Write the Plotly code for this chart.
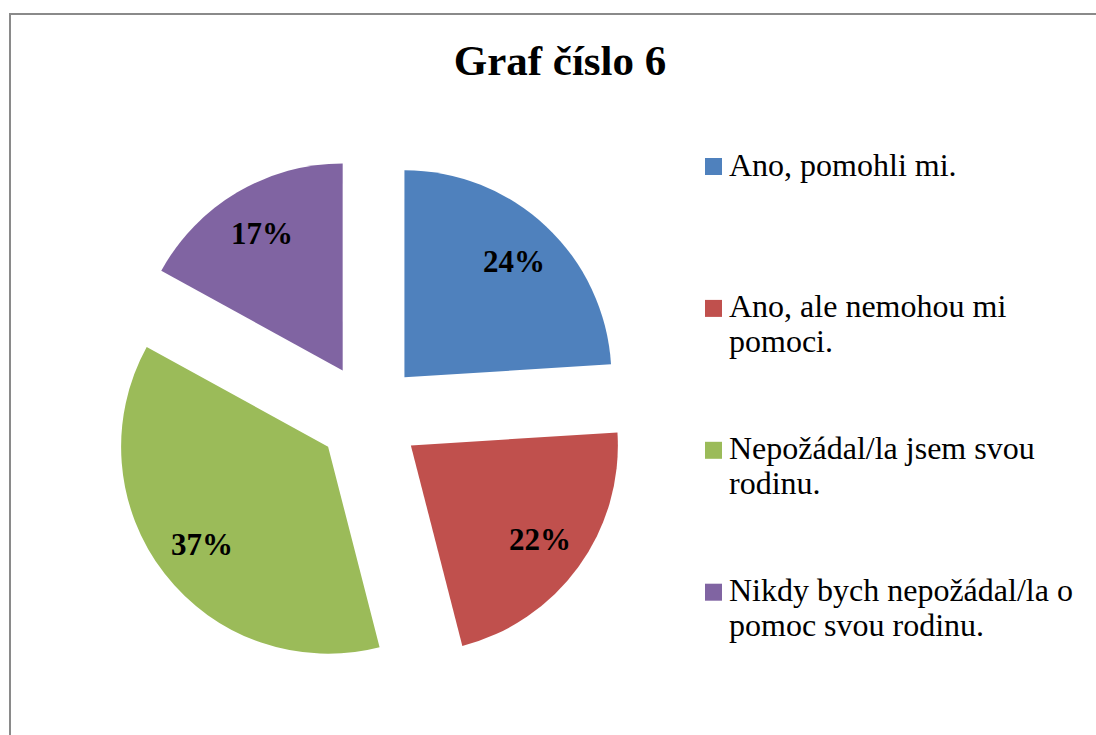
import math
import plotly.graph_objects as go

W, H = 1096, 735

categories = [
    "Ano, pomohli mi.",
    "Ano, ale nemohou mi pomoci.",
    "Nepožádal/la jsem svou rodinu.",
    "Nikdy bych nepožádal/la o pomoc svou rodinu.",
]
legend_lines = [
    ["Ano, pomohli mi."],
    ["Ano, ale nemohou mi", "pomoci."],
    ["Nepožádal/la jsem svou", "rodinu."],
    ["Nikdy bych nepožádal/la o", "pomoc svou rodinu."],
]
values = [24, 22, 37, 17]
colors = ["#4F81BD", "#C0504D", "#9BBB59", "#8064A2"]
title_text = "Graf číslo 6"

FONT = "Liberation Serif"


def px_x(x):
    return x / W


def px_y(y):
    return 1 - y / H


# pie geometry (reference pixel coords)
CX, CY, R, PULL = 369, 415, 207, 0.25
EXT = R * (1 + PULL)

fig = go.Figure()
fig.add_trace(go.Pie(
    labels=categories,
    values=values,
    sort=False,
    direction="clockwise",
    rotation=0,
    pull=[PULL] * len(values),
    marker=dict(colors=colors, line=dict(width=0)),
    textinfo="none",
    domain=dict(x=[px_x(CX - EXT), px_x(CX + EXT)], y=[px_y(CY + EXT), px_y(CY - EXT)]),
    showlegend=False,
    hoverinfo="label+percent",
))

border = dict(color="#8a8a8a", width=2)
shapes = [
    dict(type="line", xref="paper", yref="paper",
         x0=px_x(9), x1=1.0, y0=px_y(14), y1=px_y(14), line=border, layer="below"),
    dict(type="line", xref="paper", yref="paper",
         x0=px_x(10), x1=px_x(10), y0=0.0, y1=px_y(13), line=border, layer="below"),
]
annotations = []

# percentage labels placed along each slice bisector
total = sum(values)
cum = 0
for v in values:
    theta = math.radians(90 - 360 * (cum + v / 2) / total)
    cum += v
    dist = R * PULL + 0.77 * R
    lx = CX + dist * math.cos(theta)
    ly = CY - dist * math.sin(theta)
    annotations.append(dict(
        text=f"{round(100 * v / total)}%", xref="paper", yref="paper",
        x=px_x(lx), y=px_y(ly), xanchor="center", yanchor="middle", showarrow=False,
        font=dict(family=FONT, size=31, color="black", weight="bold")))

entry_y0 = 166.5
entry_step = 141.9
line_step = 35
for i, (lines, col) in enumerate(zip(legend_lines, colors)):
    cy = entry_y0 + i * entry_step
    shapes.append(dict(type="rect", xref="paper", yref="paper",
                       x0=px_x(705), x1=px_x(722), y0=px_y(cy + 8.5), y1=px_y(cy - 8.5),
                       line=dict(width=0), fillcolor=col))
    for j, t in enumerate(lines):
        annotations.append(dict(
            text=t, xref="paper", yref="paper", x=px_x(727), y=px_y(cy - 2 + j * line_step),
            xanchor="left", yanchor="middle", showarrow=False,
            font=dict(family=FONT, size=32, color="black")))

fig.update_layout(
    width=W, height=H,
    margin=dict(l=0, r=0, t=0, b=0),
    paper_bgcolor="white",
    plot_bgcolor="white",
    title=dict(text=title_text, x=px_x(560), y=px_y(60), xanchor="center", yanchor="middle",
               font=dict(family=FONT, size=43, color="black", weight="bold")),
    shapes=shapes,
    annotations=annotations,
)

fig.write_html(
    "out.html",
    config={"displayModeBar": False},
    post_script="document.body.style.margin='0';document.body.style.overflow='hidden';",
)
